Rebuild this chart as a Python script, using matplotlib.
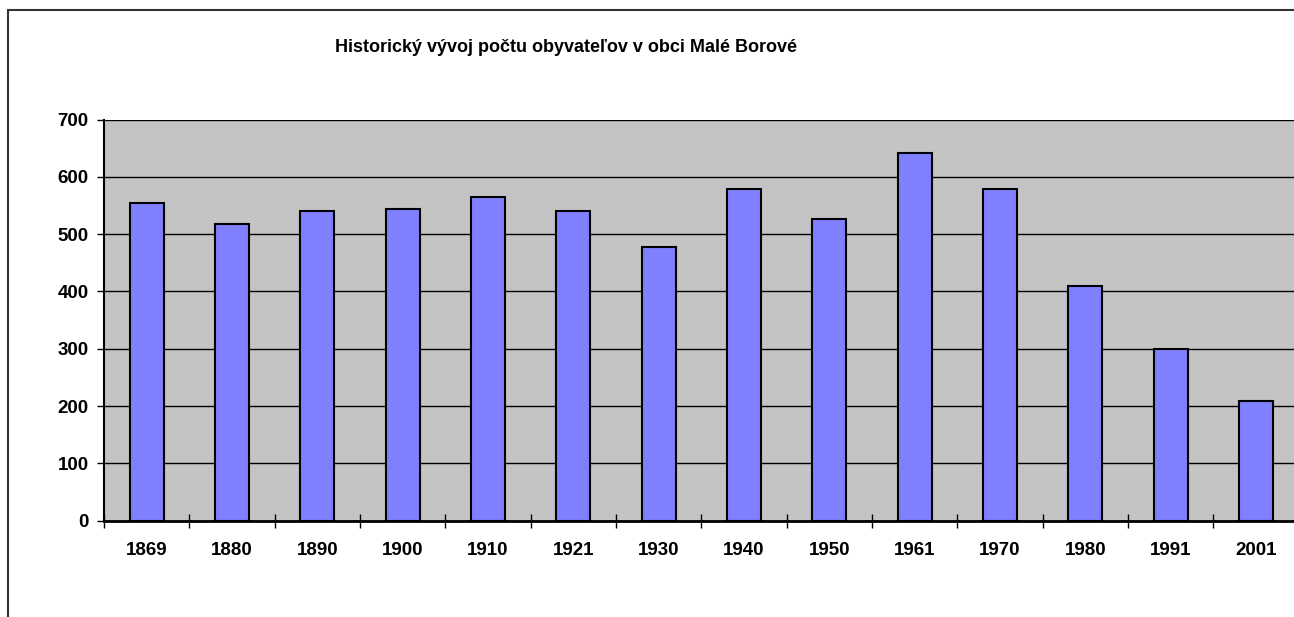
import matplotlib.pyplot as plt
from matplotlib.patches import Rectangle
import numpy as np

plt.rcParams['font.family'] = ['Liberation Sans', 'DejaVu Sans']

# population by census year
years = ["1869", "1880", "1890", "1900", "1910", "1921", "1930",
         "1940", "1950", "1961", "1970", "1980", "1991", "2001"]
population = [554, 517, 540, 544, 565, 540, 478,
              578, 526, 641, 579, 409, 300, 208]
y_ticks = [0, 100, 200, 300, 400, 500, 600, 700]
title = "Historický vývoj počtu obyvateľov v obci Malé Borové"

W, H = 1294, 617
fig = plt.figure(figsize=(W / 100, H / 100), dpi=100)

# outer chart-area border (runs off the right and bottom edges)
fig.patches.append(Rectangle((8 / W, -0.1), 1.2, 1 - 10 / H + 0.1,
                             transform=fig.transFigure, fill=False,
                             edgecolor="#333333", linewidth=1.5))

left, right, top, bottom = 104, 1298.7, 119.5, 520.7
ax = fig.add_axes([left / W, 1 - bottom / H, (right - left) / W, (bottom - top) / H])
ax.set_facecolor("#c4c4c4")

x = np.arange(len(years))
ax.bar(x, population, width=0.4, color="#8080ff", edgecolor="black",
       linewidth=1.5, zorder=3)

ax.set_xlim(-0.5, len(years) - 0.5)
ax.set_ylim(0, 700)
ax.set_yticks(y_ticks)
ax.set_yticklabels([str(v) for v in y_ticks], fontsize=13.5, fontweight="bold")
ax.set_xticks(x)
ax.set_xticklabels(years, fontsize=13.5, fontweight="bold")
ax.yaxis.grid(True, color="black", linewidth=1.0, zorder=1)
ax.set_axisbelow(True)

# category boundaries get the visible x ticks
ax.set_xticks(np.arange(-0.5, len(years), 1.0), minor=True)
ax.tick_params(axis="x", which="major", length=0, pad=15)
ax.tick_params(axis="x", which="minor", direction="inout", length=10, width=1)
ax.tick_params(axis="y", which="major", direction="out", length=5, width=1, pad=6)

for side in ("top", "right"):
    ax.spines[side].set_visible(False)
ax.spines["left"].set_linewidth(1.5)
ax.spines["bottom"].set_linewidth(2)

fig.text(566 / W, 1 - 47 / H, title, ha="center", va="center",
         fontsize=13, fontweight="bold")

fig.savefig("out.png", dpi=100)
